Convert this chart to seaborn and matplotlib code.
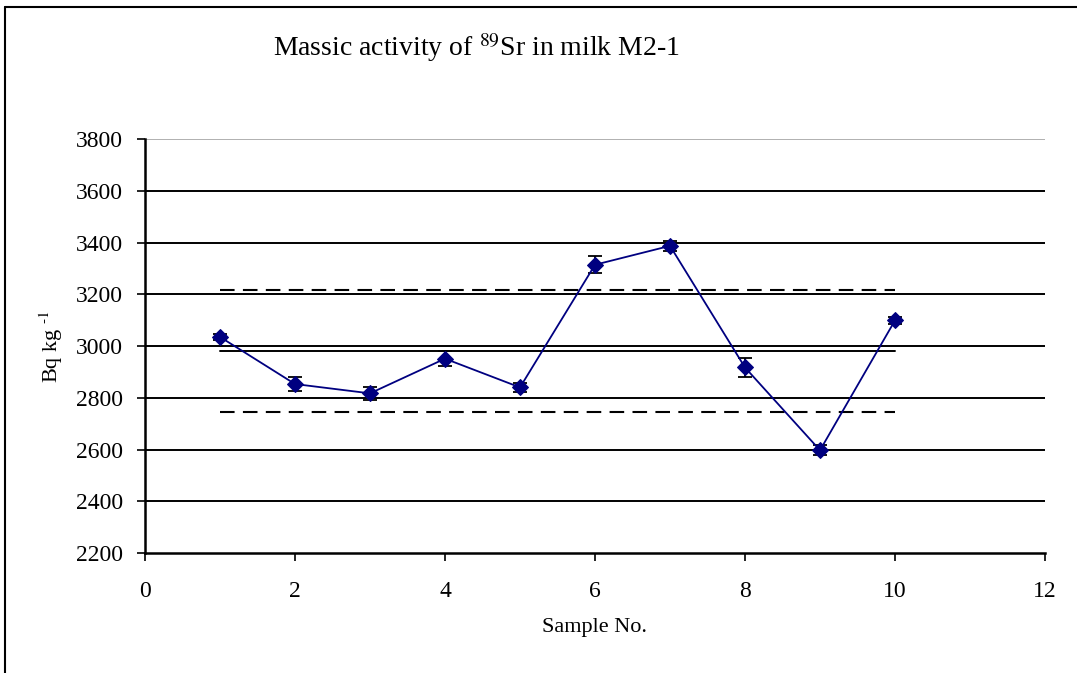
import matplotlib
matplotlib.use("Agg")
import matplotlib.pyplot as plt
import seaborn as sns
import pandas as pd
from matplotlib.lines import Line2D

sample_no = [1, 2, 3, 4, 5, 6, 7, 8, 9, 10]
activity = [3035, 2853, 2817, 2951, 2840, 3314, 3387, 2917, 2597, 3099]
uncert = [12, 27, 24, 29, 18, 32, 18, 35, 20, 14]
ref_mean = 2980
ref_low = 2743
ref_high = 3216
ref_x = [1, 10]
y_ticks = [2200, 2400, 2600, 2800, 3000, 3200, 3400, 3600, 3800]
x_ticks = [0, 2, 4, 6, 8, 10, 12]

sns.set_style("white")
plt.rcParams["font.family"] = ["Liberation Serif", "DejaVu Serif"]
plt.rcParams["mathtext.fontset"] = "stix"
plt.rcParams["text.color"] = "black"
plt.rcParams["axes.labelcolor"] = "black"
plt.rcParams["xtick.color"] = "black"
plt.rcParams["ytick.color"] = "black"

fig = plt.figure(figsize=(10.77, 6.73), dpi=100)
ax = fig.add_axes([145 / 1077, 1 - 553 / 673, 900 / 1077, 414 / 673])

# grid lines
for yv in y_ticks[1:-1]:
    ax.axhline(yv, color="black", lw=1.4, zorder=1)
ax.axhline(y_ticks[-1], color="#b0b0b0", lw=1.4, zorder=1)

# reference lines
ax.plot(ref_x, [ref_mean, ref_mean], color="black", lw=1.4, zorder=2)
ax.plot(ref_x, [ref_high, ref_high], color="black", lw=1.5, ls=(0, (7, 4)), zorder=2)
ax.plot(ref_x, [ref_low, ref_low], color="black", lw=1.5, ls=(0, (7, 4)), zorder=2)

df = pd.DataFrame({"sample": sample_no, "activity": activity, "u": uncert})
ax.errorbar(df["sample"], df["activity"], yerr=df["u"], fmt="none",
            ecolor="black", elinewidth=1.3, capsize=5, capthick=1.3, zorder=3)
sns.lineplot(data=df, x="sample", y="activity", ax=ax, color="#000080",
             marker="D", markersize=8, markeredgecolor="#000080",
             lw=1.3, zorder=4)

ax.set_xlim(0, 12)
ax.set_ylim(2200, 3800)
ax.set_xticks(x_ticks)
ax.set_yticks(y_ticks)
ax.tick_params(axis="both", labelsize=17, length=6, width=1.2, direction="out",
               color="black", left=True, bottom=True)
ax.tick_params(axis="x", pad=14)
ax.tick_params(axis="y", pad=10)
for s in ["top", "right"]:
    ax.spines[s].set_visible(False)
for s in ["left", "bottom"]:
    ax.spines[s].set_color("black")
    ax.spines[s].set_linewidth(1.8)

ax.set_xlabel("Sample No.", fontsize=16, labelpad=12)
ax.set_ylabel("Bq kg $^{\\text{-1}}$", fontsize=16, labelpad=8)
fig.text(476 / 1077, 1 - 48 / 673, "Massic activity of $^{\\mathrm{89}}$Sr in milk M2-1",
         fontsize=20, ha="center", va="center")

# outer frame
fig.add_artist(Line2D([5 / 1077, 5 / 1077], [0, 1 - 7 / 673], color="black", lw=1.5,
                      transform=fig.transFigure))
fig.add_artist(Line2D([5 / 1077, 1], [1 - 7 / 673, 1 - 7 / 673], color="black", lw=1.5,
                      transform=fig.transFigure))

fig.savefig("out.png", dpi=100)
